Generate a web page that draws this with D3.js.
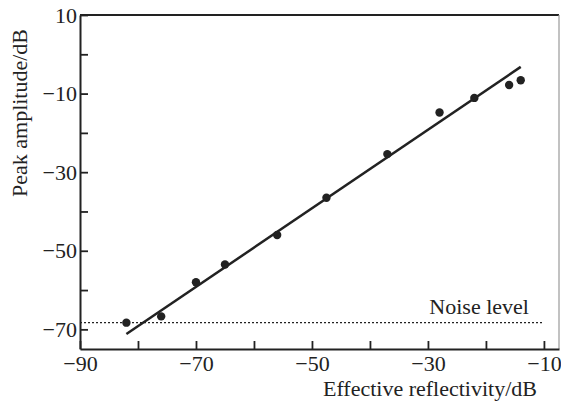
<!DOCTYPE html>
<html><head><meta charset="utf-8">
<script src="https://cdn.jsdelivr.net/npm/d3@7"></script>
<style>body{margin:0;background:#fff}svg{display:block}text{font-family:"Liberation Serif","Times New Roman",serif;fill:#222}</style>
</head><body><svg id="c" width="561" height="408"></svg>
<script>
const xValues = [-82, -76, -70, -65, -56, -47.5, -37, -28, -22, -16, -14];
const yValues = [-68.3, -66.7, -58, -53.5, -46, -36.5, -25.4, -14.8, -11.1, -7.8, -6.6];
const fitX = [-82, -14];
const fitY = [-71.2, -3.2];
const noiseLevel = -68.3;
const noiseRange = [-90, -10];
const xTicks = [-90, -80, -70, -60, -50, -40, -30, -20, -10];
const xLabelTicks = [-90, -70, -50, -30, -10];
const yTicks = [10, 0, -10, -20, -30, -40, -50, -60, -70];
const yLabelTicks = [10, -10, -30, -50, -70];
const xTitle = "Effective reflectivity/dB";
const yTitle = "Peak amplitude/dB";
const noiseText = "Noise level";

const W = 561, H = 408, m = {l:80, t:15, r:2, b:59};
const FS = 22;
const svg = d3.select("#c");
const x = d3.scaleLinear().domain([-90, -7.4]).range([m.l, W - m.r]);
const y = d3.scaleLinear().domain([-75, 10]).range([H - m.b, m.t]);
const ink = "#222";
const fmt = d => d3.format("d")(d).replace("-", "\u2212");

// frame (top and right)
svg.append("line").attr("x1", m.l).attr("x2", W - m.r).attr("y1", m.t).attr("y2", m.t).attr("stroke", ink).attr("stroke-width", 2);
svg.append("line").attr("x1", W - m.r).attr("x2", W - m.r).attr("y1", m.t).attr("y2", H - m.b).attr("stroke", "#999").attr("stroke-width", 1.2);

// x axis
const gx = svg.append("g").attr("transform", `translate(0,${H - m.b})`)
  .call(d3.axisBottom(x).tickValues(xTicks).tickSizeInner(-8).tickSizeOuter(0)
    .tickFormat(d => xLabelTicks.includes(d) ? fmt(d) : ""));
gx.select(".domain").attr("stroke", ink).attr("stroke-width", 2);
gx.selectAll(".tick line").attr("stroke", ink).attr("stroke-width", 1.8);
gx.selectAll(".tick text").attr("font-size", FS).attr("y", 6).attr("dy", "0.71em").style("font-family", '"Liberation Serif",serif').attr("fill", ink);

// y axis
const gy = svg.append("g").attr("transform", `translate(${m.l},0)`)
  .call(d3.axisLeft(y).tickValues(yTicks).tickSizeInner(-8).tickSizeOuter(0)
    .tickFormat(d => yLabelTicks.includes(d) ? fmt(d) : ""));
gy.select(".domain").attr("stroke", ink).attr("stroke-width", 2);
gy.selectAll(".tick line").attr("stroke", ink).attr("stroke-width", 1.8);
gy.selectAll(".tick text").attr("font-size", FS).attr("x", -3).style("font-family", '"Liberation Serif",serif').attr("fill", ink);

// noise level
svg.append("line").attr("x1", x(noiseRange[0])).attr("x2", x(noiseRange[1]))
  .attr("y1", y(noiseLevel)).attr("y2", y(noiseLevel))
  .attr("stroke", ink).attr("stroke-width", 1.2).attr("stroke-dasharray", "2,2");
svg.append("text").attr("x", x(noiseRange[1]) - 15).attr("y", y(noiseLevel) - 9)
  .attr("text-anchor", "end").attr("font-size", FS).text(noiseText);

// fit line
svg.append("line").attr("x1", x(fitX[0])).attr("y1", y(fitY[0])).attr("x2", x(fitX[1])).attr("y2", y(fitY[1]))
  .attr("stroke", ink).attr("stroke-width", 2.5);

// points
svg.append("g").selectAll("circle").data(xValues.map((v, i) => [v, yValues[i]])).join("circle")
  .attr("cx", d => x(d[0])).attr("cy", d => y(d[1])).attr("r", 4.2).attr("fill", ink);

// titles
svg.append("text").attr("x", 430).attr("y", 395.5).attr("text-anchor", "middle").attr("font-size", FS).text(xTitle);
svg.append("text").attr("transform", "translate(27,113) rotate(-90)").attr("text-anchor", "middle").attr("font-size", FS).text(yTitle);
</script></body></html>
